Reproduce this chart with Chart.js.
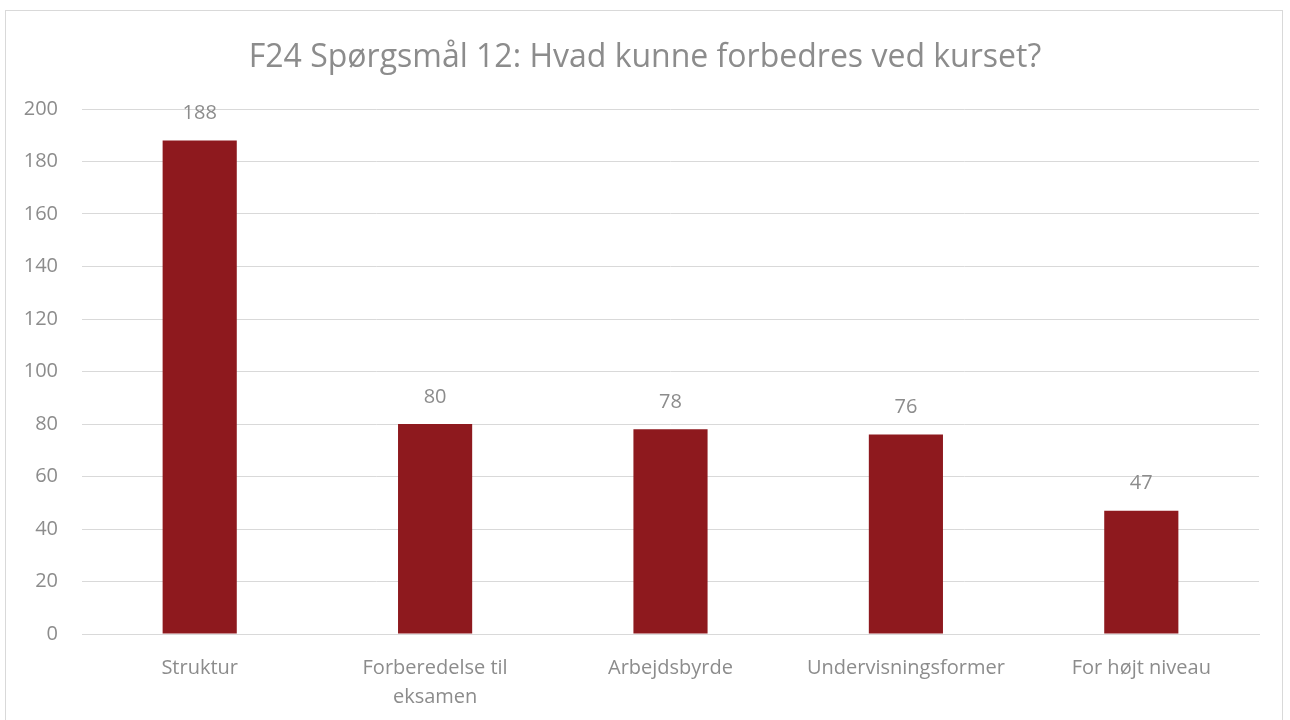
<!DOCTYPE html>
<html>
<head>
<meta charset="utf-8">
<script src="https://cdn.jsdelivr.net/npm/chart.js@4/dist/chart.umd.min.js"></script>
<style>
  html, body { margin: 0; padding: 0; background: #ffffff; }
  #wrap { position: relative; width: 1290px; height: 720px; overflow: hidden; }
  #frame { position: absolute; left: 5px; top: 10px; width: 1278px; height: 730px; border: 1px solid #d9d9d9; box-sizing: border-box; }
  canvas { position: absolute; left: 0; top: 0; }
</style>
</head>
<body>
<div id="wrap">
  <div id="frame"></div>
  <canvas id="c" width="1290" height="720"></canvas>
</div>
<script>
const titleText = "F24 Spørgsmål 12: Hvad kunne forbedres ved kurset?";
const categories = ["Struktur", ["Forberedelse til", "eksamen"], "Arbejdsbyrde", "Undervisningsformer", "For højt niveau"];
const values = [188, 80, 78, 76, 47];
const yTicks = [0, 20, 40, 60, 80, 100, 120, 140, 160, 180, 200];

const FONT = '"Open Sans", "Noto Sans", sans-serif';
const TEXT = '#8c8c8c';

const valueLabels = {
  id: 'valueLabels',
  afterDatasetsDraw(chart) {
    const ctx = chart.ctx;
    const meta = chart.getDatasetMeta(0);
    ctx.save();
    ctx.font = '20px ' + FONT;
    ctx.fillStyle = TEXT;
    ctx.textAlign = 'center';
    ctx.textBaseline = 'middle';
    meta.data.forEach((bar, i) => {
      ctx.fillText(String(values[i]), bar.x, bar.y - 27);
    });
    ctx.restore();
  }
};

const centeredTitle = {
  id: 'centeredTitle',
  afterDraw(chart) {
    const ctx = chart.ctx;
    ctx.save();
    ctx.font = '32px ' + FONT;
    ctx.fillStyle = TEXT;
    ctx.textAlign = 'center';
    ctx.textBaseline = 'middle';
    ctx.fillText(titleText, chart.width / 2, 58);
    ctx.restore();
  }
};

new Chart(document.getElementById('c'), {
  type: 'bar',
  data: {
    labels: categories,
    datasets: [{
      data: values,
      backgroundColor: '#8E191E',
      borderWidth: 0,
      barPercentage: 0.63,
      categoryPercentage: 0.5
    }]
  },
  options: {
    responsive: false,
    animation: false,
    devicePixelRatio: 1,
    layout: { padding: { left: 0, right: 31, top: 109, bottom: 0 } },
    plugins: {
      legend: { display: false },
      tooltip: { enabled: false },
      title: { display: false }
    },
    scales: {
      x: {
        grid: { display: false },
        border: { display: true, color: '#d9d9d9', width: 1 },
        ticks: { color: TEXT, font: { family: FONT, size: 20, lineHeight: 1.45 }, padding: 12, maxRotation: 0, autoSkip: false },
        afterFit(scale) { scale.height = 86; }
      },
      y: {
        min: 0,
        max: 200,
        afterBuildTicks(scale) { scale.ticks = yTicks.map(v => ({ value: v })); },
        grid: { color: '#d9d9d9', drawTicks: false },
        border: { display: false },
        ticks: { color: TEXT, font: { family: FONT, size: 20 }, padding: 24 },
        afterFit(scale) { scale.width = 82; }
      }
    }
  },
  plugins: [valueLabels, centeredTitle]
});
</script>
</body>
</html>
